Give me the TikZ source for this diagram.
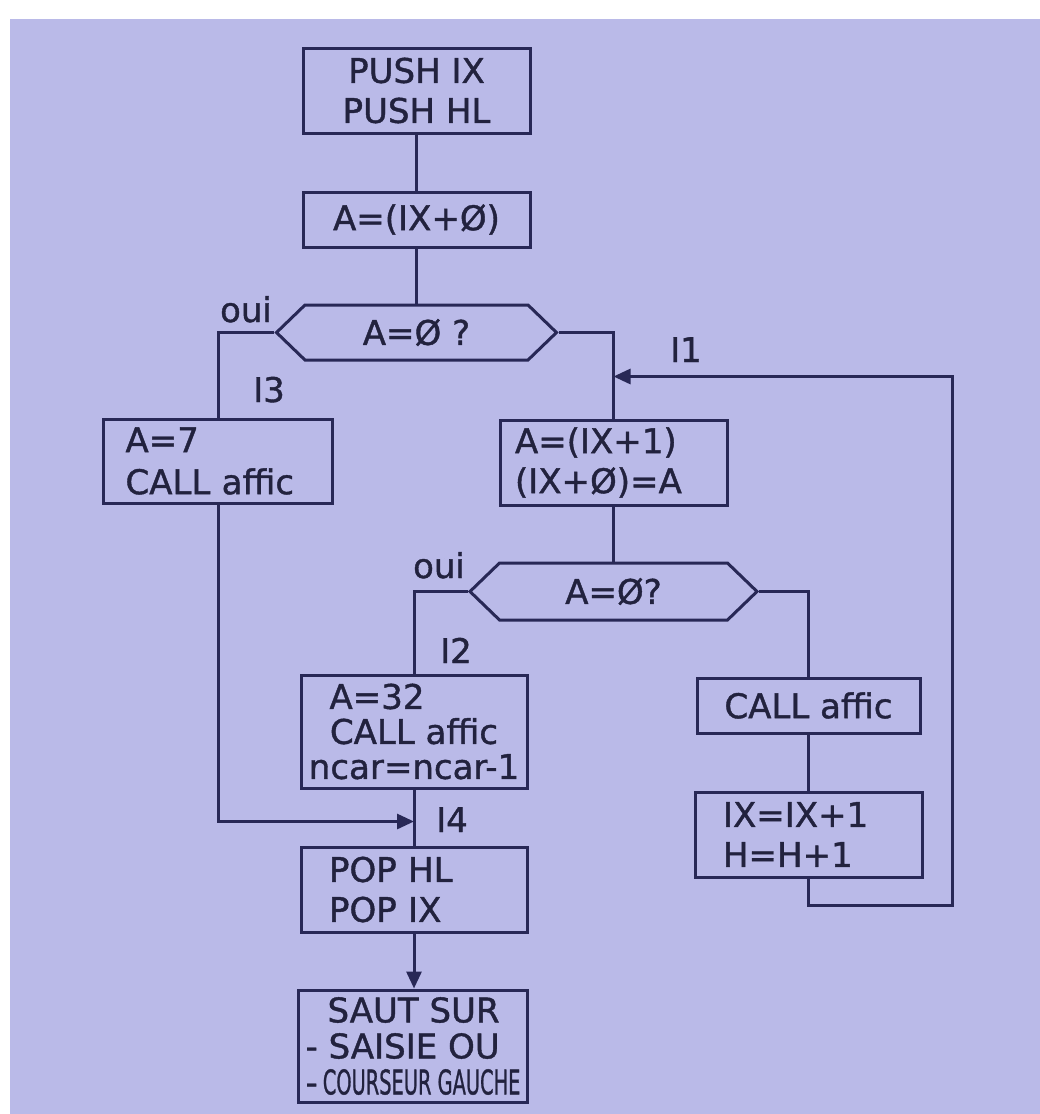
\documentclass[tikz,border=0pt]{standalone}
\usepackage{fontspec}
\setmainfont{DejaVu Sans}[FakeBold=1.2]
\usepackage{graphicx}
\usetikzlibrary{arrows.meta,shapes.symbols,calc}
\definecolor{bg}{RGB}{186,186,232}
\definecolor{ink}{RGB}{40,40,86}
\definecolor{txt}{RGB}{34,34,62}
\begin{document}
\begin{tikzpicture}[x=1pt,y=-1pt,
  box/.style={draw=ink,line width=3pt,rectangle,inner sep=0pt,text=txt,
    font=\fontsize{34}{40}\selectfont},
  dec/.style={draw=ink,line width=3pt,signal,signal to=west and east,
    signal pointer angle=88,inner sep=0pt,text=txt,font=\fontsize{34}{40}\selectfont},
  conn/.style={draw=ink,line width=3pt},
  arr/.style={conn,-{Triangle[length=17pt,width=15pt]}},
  lab/.style={anchor=base,inner sep=0pt,text=txt,font=\fontsize{34}{40}\selectfont}]
\fill[white] (0,0) rectangle (1040,1114);
\fill[bg] (10,19) rectangle (1040,1114);
\useasboundingbox (0,0) rectangle (1040,1114);

% nodes
\node[box,minimum width=227pt,minimum height=85pt,align=center] (b1) at (416.5,90.5) {PUSH IX\\PUSH HL};
\node[box,minimum width=227pt,minimum height=55pt] (b2) at (416.5,219.5) {A=(IX+Ø)};
\node[dec,minimum width=280pt,minimum height=55pt] (d1) at (416.5,332.5) {A=Ø ?};
\node[box,minimum height=84pt,text width=185pt,inner xsep=22pt,align=left,
  font=\fontsize{34}{42}\selectfont] (b3) at (218,461) {A=7\\CALL affic};
\node[box,minimum height=85pt,text width=197pt,inner xsep=15pt,align=left] (b4) at (613.5,462.5) {A=(IX+1)\\(IX+Ø)=A};
\node[dec,minimum width=287pt,minimum height=57pt] (d2) at (613.5,591.5) {A=Ø?};
\node[box,minimum width=226pt,minimum height=113pt,align=center,
  font=\fontsize{34}{35}\selectfont] (b5) at (414,731.5) {\makebox[169pt][l]{A=32}\\CALL affic\\ncar=ncar-1};
\node[box,minimum height=85pt,text width=170pt,inner xsep=28pt,align=left] (b6) at (414,889.5) {POP HL\\POP IX};
\node[box,minimum width=229pt,minimum height=112pt,align=left,
  font=\fontsize{34}{36}\selectfont] (b7) at (413,1046) {\hspace*{22pt}SAUT SUR\\- SAISIE OU\\-\hspace{5pt}\scalebox{0.57}[1]{COURSEUR GAUCHE}};
\node[box,minimum width=223pt,minimum height=55pt] (b8) at (808.5,705.5) {CALL affic};
\node[box,minimum height=85pt,text width=171pt,inner xsep=28pt,align=left] (b9) at (808.5,834.5) {IX=IX+1\\H=H+1};

% labels
\node[lab] (oui1) at (246,322) {oui};
\node[lab] (oui2) at (439,578) {oui};
\node[lab] (l1) at (686,362) {I1};
\node[lab] (l3) at (269,402) {I3};
\node[lab] (l2) at (456,663) {I2};
\node[lab] (l4) at (452,832) {I4};

% junctions
\coordinate (j1) at ($(b4.north)+(0,-42)$);
\coordinate (j4) at ($(b5.south)+(0,32)$);
\coordinate (lp) at (952,905);

% connectors
\draw[conn] (b1.south) -- (b2.north);
\draw[conn] (b2.south) -- (d1.north);
\draw[conn] (d1.west) -| (b3.north);
\draw[conn] (d1.east) -| (b4.north);
\draw[conn] (b4.south) -- (d2.north);
\draw[conn] (d2.west) -| (b5.north);
\draw[conn] (d2.east) -| (b8.north);
\draw[conn] (b8.south) -- (b9.north);
\draw[arr] (b9.south) |- (lp) |- (j1);
\draw[arr] (b3.south) |- (j4);
\draw[conn] (b5.south) -- (b6.north);
\draw[arr] (b6.south) -- (b6.south |- b7.north);
\end{tikzpicture}
\end{document}
